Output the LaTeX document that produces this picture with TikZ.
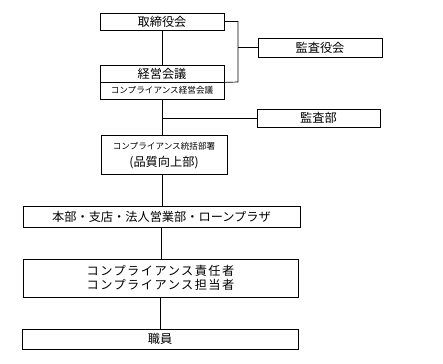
\documentclass[tikz,border=0pt]{standalone}
\usepackage{fontspec}
\setmainfont{Noto Sans CJK JP}[Scale=1.0]
\newfontfamily\jpwide{Noto Sans CJK JP}[LetterSpace=12]
\begin{document}
\begin{tikzpicture}[x=1pt,y=-1pt,
  box/.style={draw,line width=0.8pt,inner sep=0pt,align=center,font=\fontsize{12.2}{14}\selectfont},
  conn/.style={line width=0.7pt}]
\useasboundingbox (0,0) rectangle (443,363);
\node[box,minimum width=124pt,minimum height=17pt] (tori) at (162,21.5) {取締役会};
\node[box,minimum width=124pt,minimum height=19pt] (kansayaku) at (320,47.5) {監査役会};
\node[box,minimum width=124pt,minimum height=17pt] (keiei) at (162,73.5) {経営会議};
\node[box,minimum width=124pt,minimum height=17pt,font=\fontsize{8.6}{10}\selectfont] (keiei2) at (162,90.5) {コンプライアンス経営会議};
\node[box,minimum width=123pt,minimum height=18pt] (kansabu) at (318.5,118) {監査部};
\node[box,minimum width=126pt,minimum height=39pt] (tokatsu) at (164,154.5) {};
\node[font=\fontsize{8.6}{10}\selectfont,inner sep=0pt] (tokatsuA) at (164,146) {コンプライアンス統括部署};
\node[font=\fontsize{12.2}{14}\selectfont,inner sep=0pt] (tokatsuB) at (164,162.5) {(品質向上部)};
\node[box,minimum width=277pt,minimum height=21pt] (honbu) at (161.5,216.5) {本部・支店・法人営業部・ローンプラザ};
\node[box,minimum width=275pt,minimum height=38pt] (sekinin) at (160.5,278) {};
\node[font=\jpwide\fontsize{12.2}{14}\selectfont,inner sep=0pt] (sekininA) at (160.5,270.5) {コンプライアンス責任者};
\node[font=\jpwide\fontsize{12.2}{14}\selectfont,inner sep=0pt] (sekininB) at (160.5,285) {コンプライアンス担当者};
\node[box,minimum width=276pt,minimum height=20pt] (shokuin) at (160,339) {職員};
\coordinate (jr) at (238,82);
\draw[conn] (tori.south) -- (keiei.north);
\draw[conn] (tori.east) -| (jr) -- (keiei.south east);
\draw[conn] (kansayaku.west) -- (kansayaku.west -| jr);
\draw[conn] (keiei2.south) -- (keiei2.south |- tokatsu.north);
\draw[conn] (kansabu.west) -- (kansabu.west -| keiei2.south);
\draw[conn] (tokatsu.south -| keiei2.south) -- (honbu.north -| keiei2.south);
\draw[conn] (honbu.south) -- (honbu.south |- sekinin.north);
\draw[conn] (sekinin.south) -- (sekinin.south |- shokuin.north);
\end{tikzpicture}
\end{document}
